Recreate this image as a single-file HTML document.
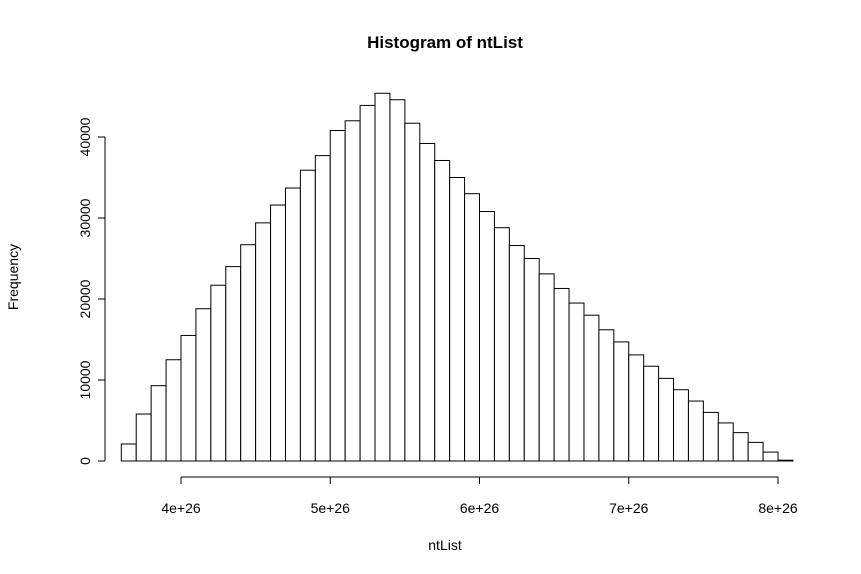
<!DOCTYPE html>
<html><head><meta charset="utf-8"><style>body{margin:0;background:#fff}svg{display:block;font-family:"Liberation Sans",sans-serif}</style></head>
<body>
<svg id="c" width="861" height="574" xmlns="http://www.w3.org/2000/svg">
<text x="445" y="48" text-anchor="middle" font-size="17" font-weight="bold">Histogram of ntList</text>
<text x="445" y="550" text-anchor="middle" font-size="14">ntList</text>
<text transform="translate(18,277) rotate(-90)" text-anchor="middle" font-size="14">Frequency</text>
<g id="bars"></g><g id="axes"></g>
</svg>
<script>
const binStart = 3.6; // e26
const binWidth = 0.1;
const counts = [2100,5800,9300,12500,15500,18800,21700,24000,26700,29400,31600,33700,35900,37700,40800,42000,43900,45400,44600,41700,39200,37100,35000,33000,30800,28800,26600,25000,23100,21300,19500,18000,16200,14700,13100,11700,10200,8800,7400,6000,4700,3500,2300,1100,100];
const xTicks = [4,5,6,7,8];
const xTickLabels = ["4e+26","5e+26","6e+26","7e+26","8e+26"];
const yTicks = [0,10000,20000,30000,40000];
const NS="http://www.w3.org/2000/svg";
const xs = v => 181 + (v-4)*149.25;
const ys = v => 461 - v*0.0081;
const bars=document.getElementById('bars'), axes=document.getElementById('axes');
function mk(tag,attrs,parent){const e=document.createElementNS(NS,tag);for(const k in attrs)e.setAttribute(k,attrs[k]);parent.appendChild(e);return e;}
counts.forEach((c,i)=>{
  const x0=xs(binStart+i*binWidth), x1=xs(binStart+(i+1)*binWidth);
  const r=mk('rect',{x:x0,y:ys(c),width:x1-x0,height:ys(0)-ys(c),fill:'#fff',stroke:'#000','stroke-width':1},bars);
  
  
});
let l=mk('line',{x1:xs(xTicks[0]),x2:xs(xTicks[xTicks.length-1]),y1:477,y2:477,stroke:'#000'},axes);


xTicks.forEach((t,i)=>{
  mk('line',{x1:xs(t),x2:xs(t),y1:477,y2:484,stroke:'#000'},axes);
  const tx=mk('text',{x:xs(t),y:513,'text-anchor':'middle','font-size':14},axes);
  tx.textContent=xTickLabels[i];
  
  
});
l=mk('line',{x1:105,x2:105,y1:ys(yTicks[yTicks.length-1]),y2:ys(0),stroke:'#000'},axes);


yTicks.forEach(t=>{
  mk('line',{x1:98,x2:105,y1:ys(t),y2:ys(t),stroke:'#000'},axes);
  const tx=mk('text',{transform:`translate(90,${ys(t)}) rotate(-90)`,'text-anchor':'middle','font-size':14},axes);
  tx.textContent=String(t);
  
  
});
</script>
</body></html>
